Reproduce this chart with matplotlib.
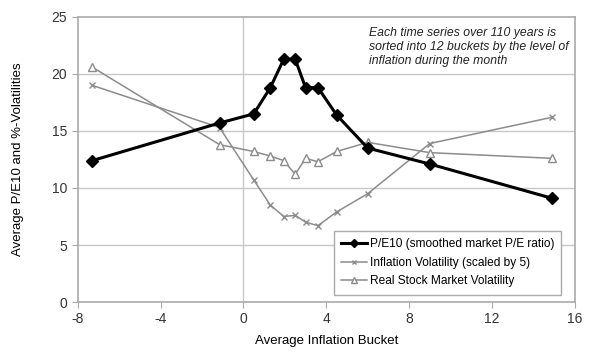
import numpy as np
import matplotlib.pyplot as plt

plt.rcParams['font.family'] = ['Liberation Sans', 'DejaVu Sans']
plt.rcParams['axes.unicode_minus'] = False

# inflation bucket averages (x)
inflation_bucket = [-7.3, -1.15, 0.5, 1.3, 1.95, 2.5, 3.0, 3.6, 4.5, 6.0, 9.0, 14.9]
pe10 = [12.4, 15.7, 16.5, 18.8, 21.3, 21.3, 18.8, 18.8, 16.4, 13.5, 12.1, 9.1]
infl_vol = [19.0, 15.3, 10.7, 8.5, 7.5, 7.6, 7.0, 6.7, 7.9, 9.5, 13.9, 16.2]
stock_vol = [20.6, 13.8, 13.2, 12.8, 12.4, 11.2, 12.6, 12.3, 13.2, 14.0, 13.1, 12.6]

x_ticks = [-8, -4, 0, 4, 8, 12, 16]
y_ticks = [0, 5, 10, 15, 20, 25]

fig = plt.figure(figsize=(6.07, 3.6), dpi=100)
ax = fig.add_axes([0.128, 0.161, 0.819, 0.792])

grid_c = "#c8c8c8"
for yv in y_ticks[1:-1]:
    ax.axhline(yv, color=grid_c, linewidth=1.0, zorder=0)
ax.axvline(0, color=grid_c, linewidth=1.0, zorder=0)

ax.plot(inflation_bucket, pe10, color="black", linewidth=2.2, marker="D",
        markersize=6, label="P/E10 (smoothed market P/E ratio)", zorder=4)
ax.plot(inflation_bucket, infl_vol, color="#8c8c8c", linewidth=1.1, marker="x",
        markersize=5, markeredgewidth=1.0, label="Inflation Volatility (scaled by 5)", zorder=3)
ax.plot(inflation_bucket, stock_vol, color="#8c8c8c", linewidth=1.1, marker="^",
        markersize=6, markerfacecolor="white", markeredgecolor="#8c8c8c",
        label="Real Stock Market Volatility", zorder=3)

ax.set_xlim(-8, 16)
ax.set_ylim(0, 25)
ax.set_xticks(x_ticks)
ax.set_yticks(y_ticks)
ax.tick_params(colors="#333333", labelsize=10, length=4, color="#aaaaaa")
for s in ax.spines.values():
    s.set_color("#aaaaaa")
    s.set_linewidth(1.2)

ax.set_xlabel("Average Inflation Bucket", fontsize=9.5, labelpad=6)
ax.set_ylabel("Average P/E10 and %-Volatilities", fontsize=9.5, labelpad=20)

ax.text(0.585, 0.965, "Each time series over 110 years is\nsorted into 12 buckets by the level of\ninflation during the month",
        transform=ax.transAxes, fontsize=8.8, style="italic", va="top", ha="left",
        linespacing=1.25, color="#222222")

leg = ax.legend(loc="lower right", bbox_to_anchor=(0.985, 0.005), fontsize=8.6,
                fancybox=False, framealpha=1, edgecolor="#aaaaaa",
                handlelength=2.2, handletextpad=0.2, borderpad=0.6, labelspacing=0.55,
                markerscale=0.7)
leg.get_frame().set_linewidth(1.0)

fig.savefig("out.png", dpi=100)
